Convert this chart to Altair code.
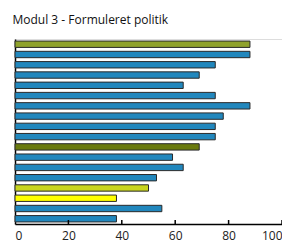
import altair as alt
import pandas as pd

# Data
items = [f"Item {i}" for i in range(1, 19)]
values = [88, 88, 75, 69, 63, 75, 88, 78, 75, 75, 69, 59, 63, 53, 50, 38, 55, 38]
colors = ["#8fa22b", "#2187bd", "#2187bd", "#2187bd", "#2187bd", "#2187bd",
          "#2187bd", "#2187bd", "#2187bd", "#2187bd", "#6a7a0e", "#2187bd",
          "#2187bd", "#2187bd", "#c9d51c", "#ffff00", "#2187bd", "#2187bd"]
tick_values = [20, 40, 60, 80, 100]

df = pd.DataFrame({"item": items, "value": values, "color": colors})
ticks_df = pd.DataFrame({"t": tick_values})

W, H = 267, 185

bars = alt.Chart(df).mark_bar(stroke="#2a2a2a", strokeWidth=1).encode(
    y=alt.Y("item:N", sort=items,
            scale=alt.Scale(paddingInner=0.38, paddingOuter=0.2),
            axis=alt.Axis(labels=False, ticks=False, title=None,
                          domainColor="#000000", domainWidth=1.5)),
    x=alt.X("value:Q", scale=alt.Scale(domain=[0, 100], nice=False),
            axis=alt.Axis(values=[0] + tick_values, ticks=False, grid=False, title=None,
                          domainColor="#000000", domainWidth=1.5,
                          labelFontSize=12, labelColor="#222222", labelFont="Open Sans",
                          labelPadding=6)),
    color=alt.Color("color:N", scale=None),
)

tick_marks = alt.Chart(ticks_df).mark_rule(color="#000000", strokeWidth=1.5).encode(
    x=alt.X("t:Q"),
    y=alt.value(H - 4),
    y2=alt.value(H),
)

chart = alt.layer(bars, tick_marks).properties(
    width=W, height=H,
    title=alt.TitleParams("Modul 3 - Formuleret politik", anchor="start", fontSize=12,
                          font="Open Sans", fontWeight="normal", color="#111111",
                          baseline="alphabetic", offset=3, dx=-2),
    autosize=alt.AutoSizeParams(type="none"),
    padding={"left": 7, "top": 31, "right": 0, "bottom": 18},
).configure_view(stroke=None).configure(background="white")

chart.save("out.html", embed_options={"renderer": "svg", "actions": False})
